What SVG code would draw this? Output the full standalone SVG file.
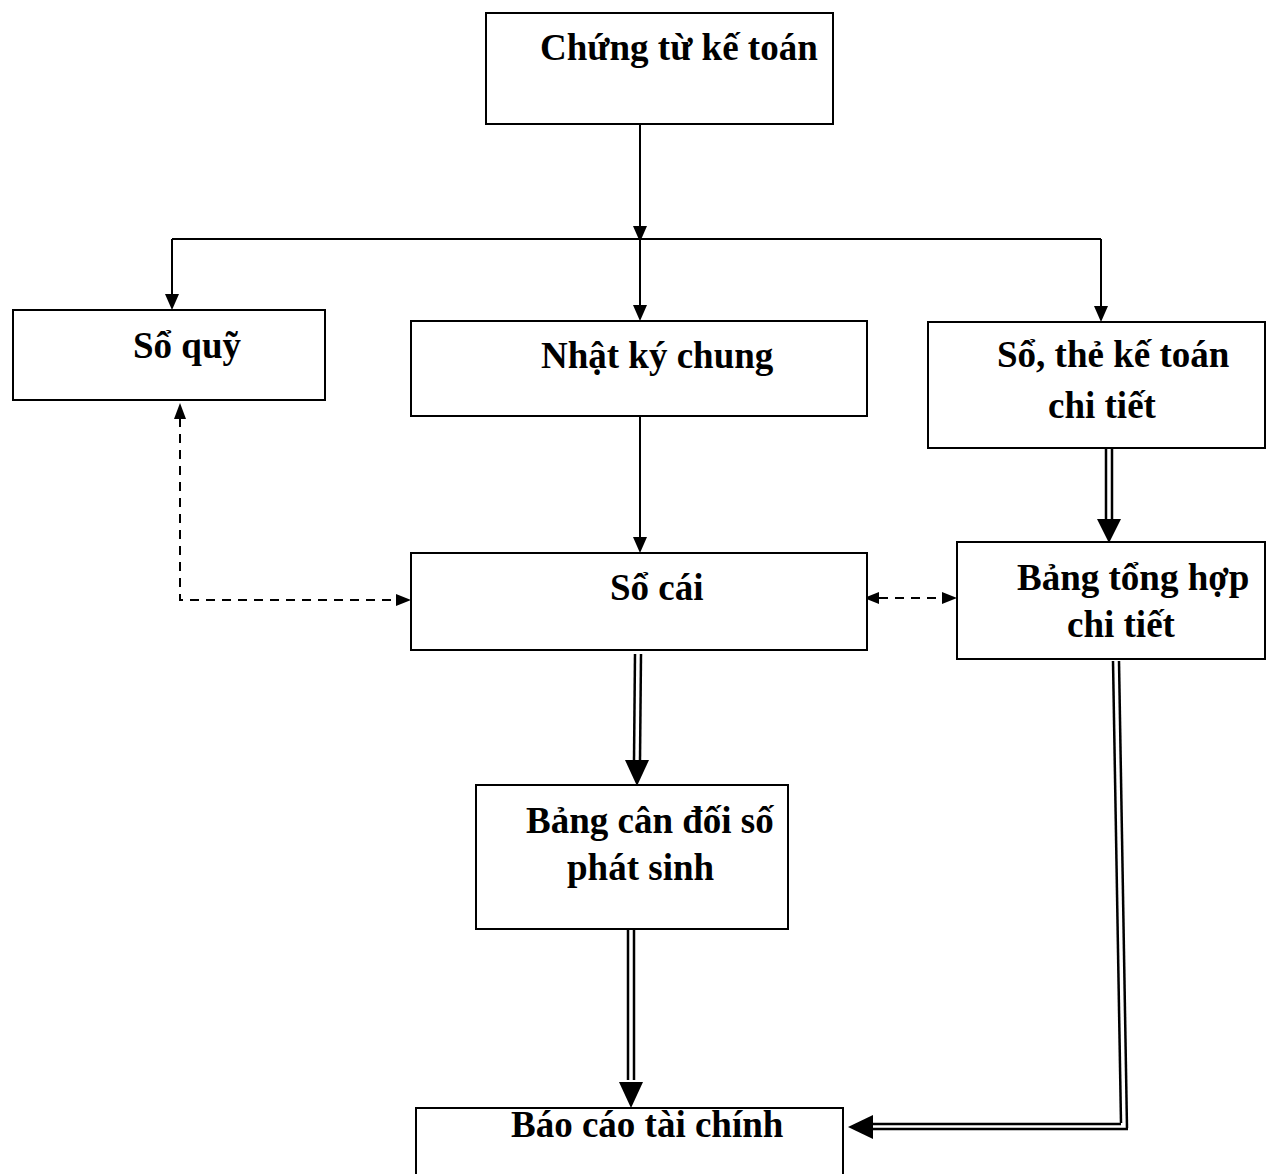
<svg xmlns="http://www.w3.org/2000/svg" width="1266" height="1174" viewBox="0 0 1266 1174">
<style>
.box{fill:#fff;stroke:#000;stroke-width:2}
.t{font-family:"Liberation Serif","Times New Roman",serif;font-weight:bold;font-size:37px;fill:#000}
.ln{stroke:#000;stroke-width:2;fill:none}
.dl{stroke:#000;stroke-width:2.5;fill:none}
.ds{stroke:#000;stroke-width:2;fill:none;stroke-dasharray:9,7}
.ah{fill:#000}
</style>
<rect width="1266" height="1174" fill="#fff"/>
<g id="connectors">
<line class="ln" x1="640" y1="124" x2="640" y2="305"/>
<polygon class="ah" points="633,226 647,226 640,242"/>
<polygon class="ah" points="633,305 647,305 640,321"/>
<line class="ln" x1="172" y1="239" x2="1101" y2="239"/>
<line class="ln" x1="172" y1="239" x2="172" y2="295"/>
<polygon class="ah" points="165,294 179,294 172,310"/>
<line class="ln" x1="1101" y1="239" x2="1101" y2="306"/>
<polygon class="ah" points="1094,306 1108,306 1101,322"/>
<line class="ln" x1="640" y1="416" x2="640" y2="537"/>
<polygon class="ah" points="633,537 647,537 640,553"/>
<line class="dl" x1="1106" y1="448" x2="1106" y2="520"/>
<line class="dl" x1="1112" y1="448" x2="1112" y2="520"/>
<polygon class="ah" points="1097,519 1121,519 1109,543"/>
<line class="dl" x1="635" y1="654" x2="634" y2="760"/>
<line class="dl" x1="641" y1="654" x2="640" y2="760"/>
<polygon class="ah" points="625,760 649,760 637,786"/>
<line class="dl" x1="628" y1="930" x2="628" y2="1080"/>
<line class="dl" x1="634" y1="930" x2="634" y2="1080"/>
<polygon class="ah" points="619,1082 643,1082 631,1108"/>
<line class="dl" x1="1113" y1="661" x2="1121" y2="1123"/>
<line class="dl" x1="1119" y1="661" x2="1127" y2="1128"/>
<line class="dl" x1="872" y1="1124" x2="1121" y2="1124"/>
<line class="dl" x1="872" y1="1129" x2="1128" y2="1129"/>
<polygon class="ah" points="873,1115 873,1139 848,1127"/>
<polyline class="ds" points="180,418 180,600 396,600"/>
<polygon class="ah" points="174,419 186,419 180,403"/>
<polygon class="ah" points="396,594 396,606 411,600"/>
<line class="ds" x1="879" y1="598" x2="942" y2="598"/>
<polygon class="ah" points="879,592 879,604 864,598"/>
<polygon class="ah" points="942,592 942,604 957,598"/>
</g>
<g id="n1"><rect class="box" x="486" y="13" width="347" height="111"/><text class="t" x="540" y="60">Chứng từ kế toán</text></g>
<g id="n2"><rect class="box" x="13" y="310" width="312" height="90"/><text class="t" x="133" y="358">Sổ quỹ</text></g>
<g id="n3"><rect class="box" x="411" y="321" width="456" height="95"/><text class="t" x="541" y="368">Nhật ký chung</text></g>
<g id="n4"><rect class="box" x="928" y="322" width="337" height="126"/><text class="t" x="997" y="367">Sổ, thẻ kế toán</text><text class="t" x="1048" y="418">chi tiết</text></g>
<g id="n5"><rect class="box" x="411" y="553" width="456" height="97"/><text class="t" x="610" y="600">Sổ cái</text></g>
<g id="n6"><rect class="box" x="957" y="542" width="308" height="117"/><text class="t" x="1017" y="590">Bảng tổng hợp</text><text class="t" x="1067" y="637">chi tiết</text></g>
<g id="n7"><rect class="box" x="476" y="785" width="312" height="144"/><text class="t" x="526" y="833">Bảng cân đối số</text><text class="t" x="567" y="880">phát sinh</text></g>
<g id="n8"><rect class="box" x="416" y="1108" width="427" height="70"/><text class="t" x="511" y="1137">Báo cáo tài chính</text></g>
</svg>
